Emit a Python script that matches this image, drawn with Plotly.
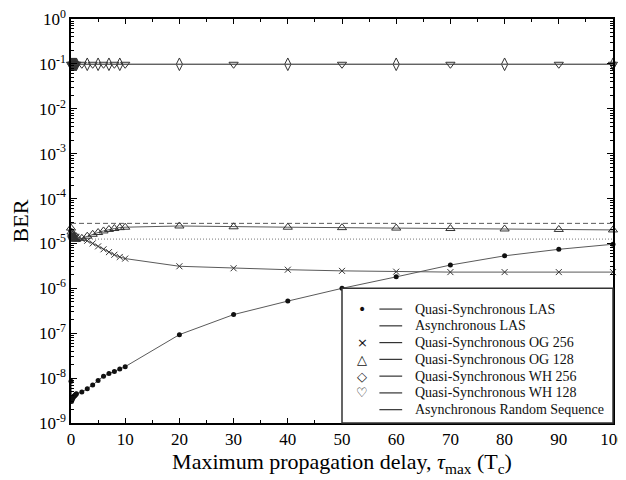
import plotly.graph_objects as go

# ---------------- data ----------------
x_fine = [0, 0.1, 0.2, 0.3, 0.4, 0.5, 0.6, 0.7, 0.8, 0.9, 1, 2, 3, 4, 5, 6, 7, 8, 9, 10,
          20, 30, 40, 50, 60, 70, 80, 90, 100]

x_las = x_fine + [101.5]
ber_qs_las = [8.5e-9, 3.0e-9, 3.3e-9, 3.5e-9, 3.7e-9, 3.9e-9, 4.0e-9, 4.1e-9, 4.2e-9, 4.35e-9, 4.5e-9,
              4.9e-9, 5.8e-9, 7.0e-9, 8.9e-9, 1.1e-8, 1.26e-8, 1.4e-8, 1.6e-8, 1.8e-8,
              9.3e-8, 2.6e-7, 5.2e-7, 1.0e-6, 1.8e-6, 3.3e-6, 5.3e-6, 7.4e-6, 9.6e-6, 9.6e-6]

x_async = [0, 100]
ber_async_las = [2.8e-5, 2.8e-5]
ber_async_random = [1.25e-5, 1.25e-5]

ber_og256 = [1.7e-5, 1.6e-5, 1.55e-5, 1.5e-5, 1.5e-5, 1.45e-5, 1.45e-5, 1.4e-5, 1.4e-5, 1.4e-5, 1.35e-5,
             1.25e-5, 1.15e-5, 1.0e-5, 8.6e-6, 7.4e-6, 6.4e-6, 5.6e-6, 5.0e-6, 4.6e-6,
             3.1e-6, 2.8e-6, 2.6e-6, 2.45e-6, 2.35e-6, 2.3e-6, 2.3e-6, 2.3e-6, 2.3e-6]

ber_og128 = [2.2e-5, 1.8e-5, 1.6e-5, 1.5e-5, 1.4e-5, 1.35e-5, 1.3e-5, 1.3e-5, 1.25e-5, 1.25e-5, 1.25e-5,
             1.3e-5, 1.45e-5, 1.6e-5, 1.75e-5, 1.9e-5, 2.05e-5, 2.15e-5, 2.25e-5, 2.3e-5,
             2.45e-5, 2.35e-5, 2.3e-5, 2.25e-5, 2.2e-5, 2.15e-5, 2.1e-5, 2.05e-5, 2.0e-5]

x_wh256 = [0, 0.1, 0.2, 0.3, 0.4, 0.5, 0.6, 0.7, 0.8, 0.9, 1, 3, 5, 7, 9, 20, 40, 60, 80, 100]
ber_wh256 = [0.098] * len(x_wh256)
x_wh128 = [0, 0.2, 0.4, 0.6, 0.8, 1, 2, 4, 6, 8, 10, 30, 50, 70, 90, 100]
ber_wh128 = [0.098] * len(x_wh128)

legend_labels = ["Quasi-Synchronous LAS", "Asynchronous LAS", "Quasi-Synchronous OG 256",
                 "Quasi-Synchronous OG 128", "Quasi-Synchronous WH 256",
                 "Quasi-Synchronous WH 128", "Asynchronous Random Sequence"]
legend_glyphs = ["•", "", "×", "△", "◇", "♡", ""]

y_tickvals = [10.0 ** e for e in range(-9, 1)]
y_ticktext = [f"10<sup>{e}</sup>" for e in range(-9, 1)]
x_tickvals = list(range(0, 101, 10))

# ---------------- figure ----------------
LINE = "#5a5a5a"
MK = "#333333"
SERIF = "Liberation Serif, Times New Roman, serif"

fig = go.Figure()

fig.add_trace(go.Scatter(x=x_async, y=ber_async_las, mode="lines",
                         line=dict(color=LINE, width=1, dash="5px,3px"),
                         name=legend_labels[1], showlegend=False))
fig.add_trace(go.Scatter(x=x_async, y=ber_async_random, mode="lines",
                         line=dict(color="#777777", width=1, dash="1px,2px"),
                         name=legend_labels[6], showlegend=False))
fig.add_trace(go.Scatter(x=x_wh256, y=ber_wh256, mode="lines+markers",
                         line=dict(color=LINE, width=1),
                         marker=dict(symbol="diamond-tall-open", size=9, color=MK,
                                     line=dict(width=1, color=MK)),
                         cliponaxis=False, name=legend_labels[4], showlegend=False))
fig.add_trace(go.Scatter(x=x_wh128, y=ber_wh128, mode="lines+markers",
                         line=dict(color=LINE, width=1),
                         marker=dict(symbol="triangle-down-open", size=8, color=MK,
                                     line=dict(width=1, color=MK)),
                         cliponaxis=False, name=legend_labels[5], showlegend=False))
fig.add_trace(go.Scatter(x=x_fine, y=ber_og128, mode="lines+markers",
                         line=dict(color=LINE, width=1),
                         marker=dict(symbol="triangle-up-open", size=8, color=MK,
                                     line=dict(width=1, color=MK)),
                         cliponaxis=False, name=legend_labels[3], showlegend=False))
fig.add_trace(go.Scatter(x=x_fine, y=ber_og256, mode="lines+markers",
                         line=dict(color=LINE, width=1),
                         marker=dict(symbol="x-thin-open", size=6, color=MK,
                                     line=dict(width=1, color=MK)),
                         cliponaxis=False, name=legend_labels[2], showlegend=False))
fig.add_trace(go.Scatter(x=x_las, y=ber_qs_las, mode="lines+markers",
                         line=dict(color=LINE, width=1),
                         marker=dict(symbol="circle", size=5, color="#111111"),
                         cliponaxis=False, name=legend_labels[0], showlegend=False))

# ---- legend box (custom, like the original) ----
shapes = [dict(type="rect", xref="paper", yref="paper", x0=0.5, x1=1.0, y0=0.0, y1=1/3,
               fillcolor="white", line=dict(color="#333333", width=1.5), layer="above")]
annotations = []
row_top = 0.282
row_step = 0.0415
for i, (lab, gl) in enumerate(zip(legend_labels, legend_glyphs)):
    yy = row_top - i * row_step
    shapes.append(dict(type="line", xref="paper", yref="paper", x0=0.569, x1=0.611,
                       y0=yy, y1=yy, line=dict(color="#333333", width=1.2), layer="above"))
    annotations.append(dict(xref="paper", yref="paper", x=0.631, y=yy, text=lab,
                            showarrow=False, xanchor="left", yanchor="middle",
                            font=dict(family=SERIF, size=14, color="#111111")))
    if gl:
        annotations.append(dict(xref="paper", yref="paper", x=0.537, y=yy, text=gl,
                                showarrow=False, xanchor="center", yanchor="middle",
                                font=dict(family="DejaVu Sans", size=13 if gl != "•" else 14,
                                          color="#111111",
                                          weight="bold" if gl in ("△", "◇") else "normal")))

# the page body adds an 8px margin, so the figure is sized to fit the 626x480 window
fig.update_layout(
    width=618, height=472,
    margin=dict(l=63, r=13, t=11, b=57),
    paper_bgcolor="white", plot_bgcolor="white",
    font=dict(family=SERIF, color="black"),
    shapes=shapes, annotations=annotations,
    showlegend=False,
)

fig.update_xaxes(
    range=[0, 100], tickvals=x_tickvals, ticks="inside", ticklen=5, tickwidth=1, tickcolor="black",
    minor=dict(ticks="inside", ticklen=3, dtick=5, tickcolor="black"),
    showline=True, linecolor="black", linewidth=1.5, mirror="ticks",
    showgrid=False, zeroline=False, automargin=False, ticklabeloverflow="allow",
    tickfont=dict(family=SERIF, size=17, color="black"),
    title=dict(text="Maximum propagation delay, <i>τ</i><sub>max</sub> (T<sub>c</sub>)",
               font=dict(family=SERIF, size=22, color="black"), standoff=2),
)
fig.update_yaxes(
    type="log", range=[-9, 0], tickvals=y_tickvals, ticktext=y_ticktext,
    ticks="inside", ticklen=6, tickwidth=1, tickcolor="black",
    minor=dict(ticks="inside", ticklen=3, dtick="D1", tickcolor="black"),
    showline=True, linecolor="black", linewidth=1.5, mirror="ticks",
    showgrid=False, zeroline=False, automargin=False, ticklabeloverflow="allow",
    tickfont=dict(family=SERIF, size=17, color="black"),
    title=dict(text="BER", font=dict(family=SERIF, size=22, color="black"), standoff=8),
)

fig.write_html("out.html")
